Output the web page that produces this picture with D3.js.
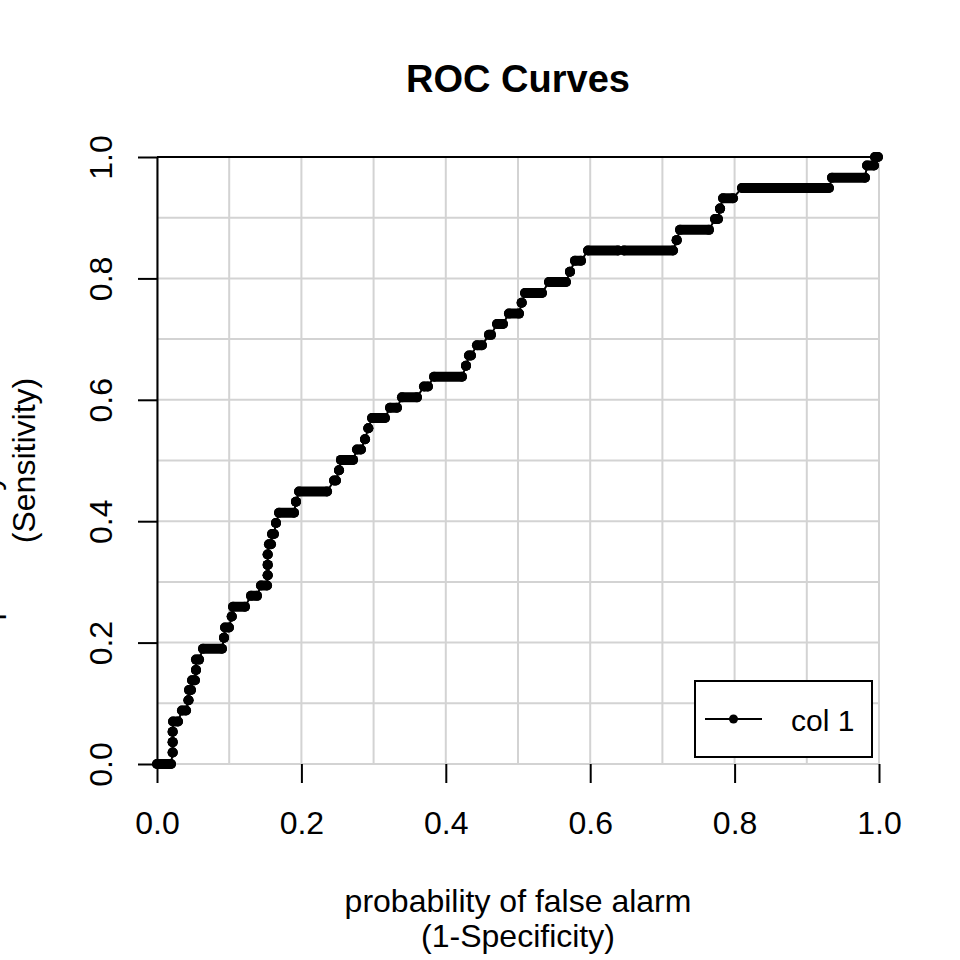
<!DOCTYPE html>
<html>
<head>
<meta charset="utf-8">
<script src="https://cdn.jsdelivr.net/npm/d3@7"></script>
<style>
  body { margin: 0; background: #fff; }
  svg text { font-family: "Liberation Sans", Arial, sans-serif; fill: #000; }
</style>
</head>
<body>
<svg width="960" height="960"></svg>
<script>
// ROC runs: each row is a run of dense points at one sensitivity level
const runTpr = [0.000, 0.019, 0.036, 0.053, 0.070, 0.088, 0.105, 0.122, 0.138, 0.155,
  0.172, 0.190, 0.208, 0.225, 0.243, 0.259, 0.277, 0.294, 0.311, 0.328,
  0.345, 0.362, 0.379, 0.397, 0.414, 0.432, 0.449, 0.467, 0.484, 0.501,
  0.518, 0.535, 0.553, 0.570, 0.587, 0.604, 0.622, 0.638, 0.656, 0.673,
  0.690, 0.707, 0.725, 0.742, 0.760, 0.776, 0.794, 0.811, 0.829, 0.846,
  0.846, 0.863, 0.880, 0.898, 0.915, 0.932, 0.949, 0.966, 0.986, 1.000]
const runFprStart = [0.000, 0.0217, 0.0217, 0.0217, 0.0222, 0.0346, 0.0436, 0.0443, 0.0485, 0.054,
  0.054, 0.0637, 0.0928, 0.0942, 0.1035, 0.1053, 0.1302, 0.144, 0.1533, 0.1533,
  0.1533, 0.1551, 0.1593, 0.1648, 0.169, 0.1925, 0.1967, 0.2452, 0.2521, 0.2548,
  0.277, 0.2881, 0.2927, 0.2978, 0.3227, 0.3393, 0.3698, 0.3837, 0.428, 0.4321,
  0.4432, 0.4598, 0.4709, 0.4875, 0.5051, 0.5097, 0.5429, 0.572, 0.5789, 0.597,
  0.6468, 0.7198, 0.7244, 0.7729, 0.7798, 0.784, 0.8102, 0.9349, 0.9834, 0.9945]
const runFprEnd = [0.0194, 0.0217, 0.0217, 0.0217, 0.0291, 0.0402, 0.0436, 0.0471, 0.0526, 0.054,
  0.0582, 0.090, 0.0928, 0.0997, 0.1035, 0.1219, 0.1385, 0.1524, 0.1533, 0.1533,
  0.1533, 0.1579, 0.162, 0.1648, 0.1898, 0.1925, 0.2355, 0.2479, 0.2521, 0.2715,
  0.2825, 0.2881, 0.2927, 0.3158, 0.3324, 0.3601, 0.3753, 0.4224, 0.428, 0.4349,
  0.4501, 0.4626, 0.4792, 0.5014, 0.5051, 0.5332, 0.5665, 0.572, 0.5873, 0.6385,
  0.7147, 0.7198, 0.7645, 0.777, 0.7798, 0.7978, 0.9307, 0.9806, 0.9931, 0.9986]

const xTicks = [0, 0.2, 0.4, 0.6, 0.8, 1.0]
const yTicks = [0, 0.2, 0.4, 0.6, 0.8, 1.0]
const gridVals = [0, 0.1, 0.2, 0.3, 0.4, 0.5, 0.6, 0.7, 0.8, 0.9, 1.0]
const legendLabels = ["col 1"]

const svg = d3.select("svg")
const x = d3.scaleLinear().domain([0, 1]).range([157, 879])
const y = d3.scaleLinear().domain([0, 1]).range([764, 157])
const fmt = d3.format(".1f")

// grid
const grid = svg.append("g").attr("stroke", "#d3d3d3").attr("stroke-width", 2)
grid.selectAll(".gv").data(gridVals).enter().append("line")
  .attr("x1", d => x(d)).attr("x2", d => x(d)).attr("y1", y(0)).attr("y2", y(1))
grid.selectAll(".gh").data(gridVals).enter().append("line")
  .attr("x1", x(0)).attr("x2", x(1)).attr("y1", d => y(d)).attr("y2", d => y(d))

// x axis (ticks only, no line)
const xAxis = svg.append("g")
  .attr("transform", `translate(0,${y(0)})`)
  .call(d3.axisBottom(x).tickValues(xTicks).tickFormat(fmt).tickSize(19).tickPadding(0))
xAxis.select(".domain").remove()
xAxis.selectAll("line").attr("stroke-width", 2)
xAxis.selectAll("text").attr("font-size", 32).attr("dy", null)
  .attr("y", 834 - y(0))
  .style("font-family", "Liberation Sans, Arial, sans-serif")

// y axis
const yAxis = svg.append("g")
  .attr("transform", `translate(${x(0)},0)`)
  .call(d3.axisLeft(y).tickValues(yTicks).tickFormat(fmt).tickSize(19).tickSizeOuter(0))
yAxis.select(".domain").attr("stroke-width", 2)
yAxis.selectAll("line").attr("stroke-width", 2)
yAxis.selectAll(".tick text")
  .attr("x", null).attr("dy", null).attr("text-anchor", "middle")
  .attr("font-size", 32)
  .attr("transform", `translate(${112 - x(0)},0) rotate(-90)`)
  .style("font-family", "Liberation Sans, Arial, sans-serif")

// top border line
svg.append("line")
  .attr("x1", x(0)).attr("x2", x(1)).attr("y1", y(1)).attr("y2", y(1))
  .attr("stroke", "#000").attr("stroke-width", 2)

// curve
const runs = runTpr.map((t, i) => ({ t: t, f0: runFprStart[i], f1: runFprEnd[i] }))
const pts = runs.flatMap(r => [[r.f0, r.t], [r.f1, r.t]])
svg.append("path")
  .attr("d", d3.line().x(d => x(d[0])).y(d => y(d[1]))(pts))
  .attr("fill", "none").attr("stroke", "#000").attr("stroke-width", 2)
svg.append("g").selectAll("line").data(runs).enter().append("line")
  .attr("x1", d => x(d.f0)).attr("x2", d => x(d.f1))
  .attr("y1", d => y(d.t)).attr("y2", d => y(d.t))
  .attr("stroke", "#000").attr("stroke-width", 10).attr("stroke-linecap", "round")
svg.append("g").selectAll("circle").data(pts).enter().append("circle")
  .attr("cx", d => x(d[0])).attr("cy", d => y(d[1])).attr("r", 5).attr("fill", "#000")

// legend
const lg = svg.append("g")
lg.append("rect").attr("x", 695).attr("y", 681).attr("width", 177).attr("height", 76)
  .attr("fill", "#fff").attr("stroke", "#000").attr("stroke-width", 2)
lg.append("line").attr("x1", 705).attr("x2", 762).attr("y1", 719).attr("y2", 719)
  .attr("stroke", "#000").attr("stroke-width", 2)
lg.append("circle").attr("cx", 733.5).attr("cy", 719).attr("r", 4.5).attr("fill", "#000")
lg.selectAll("text").data(legendLabels).enter().append("text")
  .attr("x", 791).attr("y", 731).attr("font-size", 30).text(d => d)

// titles
svg.append("text").attr("x", 518).attr("y", 92).attr("text-anchor", "middle")
  .attr("font-size", 38).attr("font-weight", "bold").text("ROC Curves")
svg.append("text").attr("x", 518).attr("y", 912).attr("text-anchor", "middle")
  .attr("font-size", 32).text("probability of false alarm")
svg.append("text").attr("x", 518).attr("y", 947).attr("text-anchor", "middle")
  .attr("font-size", 32).text("(1-Specificity)")
svg.append("text").attr("transform", "translate(-1.5,460.5) rotate(-90)")
  .attr("text-anchor", "middle").attr("font-size", 32).text("probability of detection")
svg.append("text").attr("transform", "translate(35,460.5) rotate(-90)")
  .attr("text-anchor", "middle").attr("font-size", 32).text("(Sensitivity)")
</script>
</body>
</html>
